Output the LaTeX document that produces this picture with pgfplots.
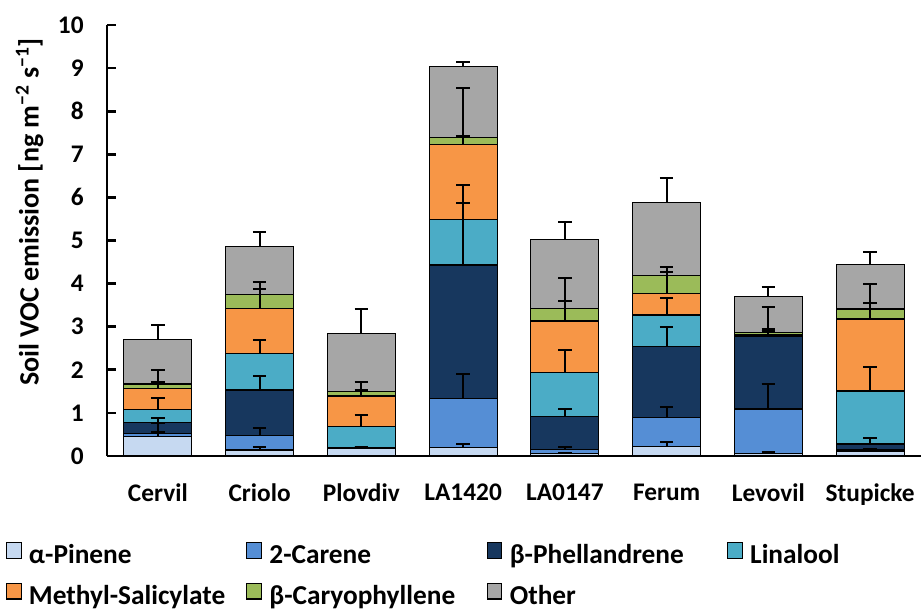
\documentclass[border=0pt]{standalone}
\usepackage{fontspec}
\setmainfont{Carlito}
\usepackage{pgfplots}
\pgfplotsset{compat=1.18}
\usepackage{pgfplotstable}

\definecolor{cPin}{RGB}{198,217,241}
\definecolor{cCar}{RGB}{85,142,213}
\definecolor{cPhe}{RGB}{23,55,94}
\definecolor{cLin}{RGB}{75,172,198}
\definecolor{cMeS}{RGB}{247,150,70}
\definecolor{cCary}{RGB}{155,187,89}
\definecolor{cOth}{RGB}{166,166,166}

% a..g = cumulative top of each segment (alpha-pinene ... other)
% ea..eg = error bar length above that top
\pgfplotstableread{
x a    b    c    d    e    f    g    ea   eb   ec   ed   ee   ef   eg
0 0.45 0.52 0.78 1.08 1.57 1.67 2.71 0.10 0.25 0.11 0.26 0.15 0.33 0.34
1 0.14 0.48 1.53 2.37 3.43 3.75 4.87 0.08 0.18 0.33 0.32 0.44 0.29 0.33
2 0.17 0.19 0.19 0.68 1.39 1.49 2.85 0.04 0.03 0.02 0.26 0.33 0.04 0.56
3 0.19 1.34 4.43 5.48 7.22 7.39 9.04 0.08 0.56 1.45 0.80 0.20 1.15 0.09
4 0.06 0.16 0.91 1.94 3.13 3.43 5.02 0.02 0.06 0.17 0.53 0.47 0.69 0.42
5 0.22 0.90 2.54 3.27 3.77 4.18 5.89 0.11 0.23 0.46 0.39 0.51 0.21 0.57
6 0.05 1.09 2.77 2.80 2.82 2.86 3.70 0.05 0.58 0.14 0.14 0.08 0.60 0.21
7 0.10 0.14 0.28 1.51 3.18 3.41 4.45 0.06 0.02 0.14 0.56 0.36 0.58 0.29
}\data

\newcommand{\lab}{\fontsize{19}{23}\selectfont\bfseries}
\newcommand{\leg}{\fontsize{20.5}{24}\selectfont\bfseries}

\begin{document}
\begin{tikzpicture}
\begin{axis}[
  name=ax,
  scale only axis, width=610.5pt, height=323.25pt,
  xmin=-0.5, xmax=7.5, ymin=0, ymax=10,
  axis lines=left, axis line style={line width=2.2pt, -},
  xtick={0,...,7},
  xticklabels={Cervil,Criolo,Plovdiv,LA1420,LA0147,Ferum,Levovil,Stupicke},
  x tick style={draw=none},
  ytick={0,...,10},
  tick align=inside, major tick length=6.75pt,
  y tick style={line width=2pt, black},
  tick label style={font=\lab},
  /pgf/number format/assume math mode=true,
  xticklabel shift=17.5pt, yticklabel shift=14pt,
  ylabel={Soil VOC emission [ng m\textsuperscript{−2} s\textsuperscript{−1}]},
  ylabel style={font=\fontsize{21}{25}\selectfont\bfseries, at={(axis description cs:-0.095,0.566)}, anchor=center},
  bar width=51pt,
  legend columns=4,
  legend style={draw=none, fill=none, at={(axis description cs:0,0)}, anchor=north west,
    xshift=-76pt, yshift=-64.5pt, font=\leg, inner sep=0pt, row sep=10pt, column sep=0pt,
    nodes={text width=163pt, align=left, inner xsep=0pt, inner ysep=0pt, text height=14pt, text depth=4.5pt},
    /tikz/every odd column/.append style={column sep=5.5pt}},
  legend image code/.code={\draw[#1, line width=0.8pt] (0pt,-0.5pt) rectangle (11pt,11pt);},
]
\addplot[ybar, bar shift=0pt, fill=cOth,  draw=black, line width=0.9pt, forget plot] table[x=x,y=g]{\data};
\addplot[ybar, bar shift=0pt, fill=cCary, draw=black, line width=0.9pt, forget plot] table[x=x,y=f]{\data};
\addplot[ybar, bar shift=0pt, fill=cMeS,  draw=black, line width=0.9pt, forget plot] table[x=x,y=e]{\data};
\addplot[ybar, bar shift=0pt, fill=cLin,  draw=black, line width=0.9pt, forget plot] table[x=x,y=d]{\data};
\addplot[ybar, bar shift=0pt, fill=cPhe,  draw=black, line width=0.9pt, forget plot] table[x=x,y=c]{\data};
\addplot[ybar, bar shift=0pt, fill=cCar,  draw=black, line width=0.9pt, forget plot] table[x=x,y=b]{\data};
\addplot[ybar, bar shift=0pt, fill=cPin,  draw=black, line width=0.9pt, forget plot] table[x=x,y=a]{\data};

\pgfplotsinvokeforeach{a,b,c,d,e,f,g}{
  \addplot[draw=none, mark=none, forget plot,
    error bars/.cd, y dir=plus, y explicit,
    error bar style={draw=black, line width=1.5pt},
    error mark options={rotate=90, draw=black, line width=1.5pt, mark size=5pt}]
    table[x=x, y=#1, y error=e#1]{\data};
}

\addlegendimage{fill=cPin, draw=black}\addlegendentry{α-Pinene}
\addlegendimage{fill=cCar, draw=black}\addlegendentry{2-Carene}
\addlegendimage{fill=cPhe, draw=black}\addlegendentry{β-Phellandrene}
\addlegendimage{fill=cLin, draw=black}\addlegendentry{Linalool}
\addlegendimage{fill=cMeS, draw=black}\addlegendentry{Methyl-Salicylate}
\addlegendimage{fill=cCary, draw=black}\addlegendentry{β-Caryophyllene}
\addlegendimage{fill=cOth, draw=black}\addlegendentry{Other}
\end{axis}
\pgfresetboundingbox
\path (ax.south west) ++(-80.25pt,-115.5pt) rectangle ++(690.75pt,457.5pt);
\end{tikzpicture}
\end{document}
